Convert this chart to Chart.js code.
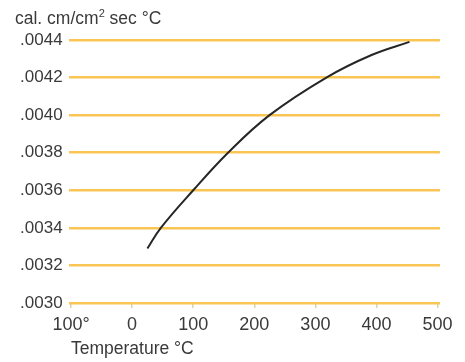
<!DOCTYPE html>
<html>
<head>
<meta charset="utf-8">
<script src="https://cdn.jsdelivr.net/npm/chart.js@4.4.1/dist/chart.umd.min.js"></script>
<style>
  html, body { margin: 0; padding: 0; background: #fff; }
  #wrap { position: relative; width: 465px; height: 362px; font-family: "Liberation Sans", Arial, sans-serif; color: #3a3a3a; }
  #c { position: absolute; left: 0; top: 0; }
  .lbl { position: absolute; white-space: nowrap; font-size: 17.5px; line-height: 1; }
</style>
</head>
<body>
<div id="wrap">
  <canvas id="c" width="465" height="362"></canvas>
  <div class="lbl" style="left:15px; top:10px;">cal. cm/cm<sup style="font-size:11px; vertical-align:7px; line-height:0">2</sup> sec °C</div>
  <div class="lbl" style="left:71px; top:340px;">Temperature °C</div>
</div>
<script>
  // thermal conductivity vs temperature
  const temps = [25, 47, 100, 157, 225, 318, 392, 454];
  const conductivity = [0.00329, 0.0034, 0.0036, 0.0038, 0.0040, 0.0042, 0.00432, 0.00439];
  const xTicks = [-100, 0, 100, 200, 300, 400, 500];
  const yTicks = [0.0030, 0.0032, 0.0034, 0.0036, 0.0038, 0.0040, 0.0042, 0.0044];

  const GRID = '#f9c554';

  new Chart(document.getElementById('c'), {
    type: 'line',
    data: {
      datasets: [{
        data: temps.map((t, i) => ({ x: t, y: conductivity[i] })),
        borderColor: '#262626',
        borderWidth: 2,
        pointRadius: 0,
        tension: 0.4,
        fill: false,
      }],
    },
    options: {
      responsive: false,
      animation: false,
      layout: { padding: { top: 40, right: 25, left: 0, bottom: 0 } },
      plugins: { legend: { display: false }, tooltip: { enabled: false } },
      scales: {
        x: {
          type: 'linear', min: -104, max: 504,
          afterBuildTicks: s => { s.ticks = xTicks.map(v => ({ value: v })); },
          afterFit: s => { s.height = 59; },
          border: { display: false },
          grid: { drawOnChartArea: false, drawTicks: true, tickLength: 5, color: '#d9d3a6', lineWidth: 1.5 },
          ticks: {
            color: '#3a3a3a', padding: 6,
            font: { family: '"Liberation Sans", Arial, sans-serif', size: 18 },
            callback: v => v < 0 ? Math.abs(v) + '°' : String(v),
          },
        },
        y: {
          type: 'linear', min: 0.0030, max: 0.0044,
          afterBuildTicks: s => { s.ticks = yTicks.map(v => ({ value: v })); },
          afterFit: s => { s.width = 68.6; },
          border: { display: false },
          grid: { color: GRID, lineWidth: 2.5, drawTicks: false },
          ticks: {
            color: '#3a3a3a', padding: 6,
            font: { family: '"Liberation Sans", Arial, sans-serif', size: 17 },
            callback: v => '.' + (Math.round(v * 10000)).toString().padStart(4, '0'),
          },
        },
      },
    },
  });
</script>
</body>
</html>
